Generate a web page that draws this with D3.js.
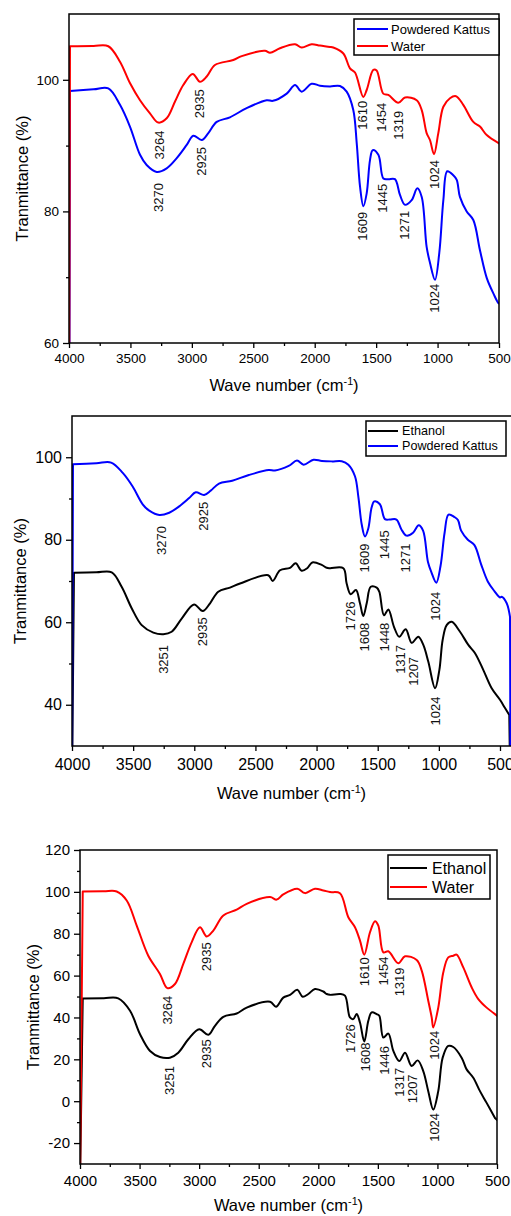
<!DOCTYPE html>
<html lang="en">
<head>
<meta charset="utf-8">
<script src="https://d3js.org/d3.v7.min.js"></script>
<title>FTIR spectra</title>
<style>
  body { margin: 0; background: #fff; }
  svg { display: block; }
</style>
</head>
<body>
<div id="chart"></div>
<script>
// ---- data (wave number cm-1, transmittance %) ----
var kattusWave = [4000, 3992, 3800, 3680, 3585, 3504, 3422, 3368, 3286, 3205, 3123, 3042, 2988, 2920, 2866, 2798, 2690, 2554, 2391, 2340, 2228, 2160, 2106, 2025, 1957, 1876, 1794, 1740, 1686, 1658, 1631, 1604, 1577, 1550, 1528, 1482, 1441, 1401, 1347, 1306, 1265, 1211, 1165, 1129, 1089, 1062, 1021, 986, 953, 921, 872, 844, 818, 763, 709, 655, 600, 546, 500, 486, 445, 418, 414];
var kattusT    = [20, 98.3, 98.55, 98.7, 96.2, 92.9, 88.6, 87.05, 86.0, 86.55, 88.1, 90.1, 91.5, 90.85, 91.9, 93.6, 94.3, 95.7, 96.9, 96.8, 97.9, 99.2, 98.2, 99.4, 99.1, 99.0, 99.05, 98.2, 95.4, 90.35, 83.75, 80.8, 82.75, 87.8, 89.3, 88.6, 85.0, 84.9, 84.9, 82.5, 81.0, 81.7, 83.5, 82.2, 74.6, 72.2, 69.6, 73.7, 81.7, 86.1, 85.5, 84.8, 82.2, 80.0, 78.7, 74.1, 69.9, 67.55, 66.0, 66.2, 64.6, 61.3, 20];

// water as plotted in the first panel
var water1Wave = [4000, 3992, 3800, 3680, 3585, 3504, 3422, 3341, 3273, 3205, 3137, 3070, 2993, 2934, 2879, 2812, 2663, 2594, 2405, 2364, 2283, 2160, 2106, 2025, 1957, 1876, 1849, 1767, 1713, 1672, 1605, 1577, 1523, 1496, 1442, 1401, 1320, 1265, 1170, 1129, 1089, 1062, 1029, 994, 953, 899, 850, 791, 709, 655, 600, 500, 460];
var water1T    = [40, 105.1, 105.15, 105.1, 102.75, 99.5, 96.9, 94.9, 93.5, 94.15, 96.7, 99.2, 100.9, 99.7, 100.5, 102.25, 103.0, 103.6, 104.4, 104.1, 104.8, 105.4, 104.9, 105.4, 105.2, 105.0, 104.9, 104.0, 101.75, 101.1, 97.4, 98.45, 101.5, 101.4, 97.9, 97.7, 96.5, 97.3, 96.9, 95.4, 91.9, 90.85, 88.7, 91.9, 95.9, 97.2, 97.5, 96.2, 93.6, 92.9, 91.6, 90.35, 89.9];

// ethanol as plotted in the second panel
var ethanol2Wave = [4000, 3984, 3800, 3675, 3594, 3512, 3430, 3335, 3253, 3185, 3103, 3002, 2931, 2871, 2804, 2708, 2626, 2395, 2359, 2299, 2217, 2171, 2122, 2076, 2035, 1958, 1917, 1890, 1781, 1754, 1721, 1678, 1645, 1618, 1590, 1557, 1508, 1487, 1449, 1413, 1367, 1324, 1271, 1222, 1168, 1127, 1086, 1031, 996, 969, 936, 895, 827, 759, 704, 636, 568, 500, 459, 424, 416];
var ethanol2T    = [20, 72.0, 72.1, 72.1, 68.6, 63.4, 59.3, 57.5, 57.1, 57.7, 60.9, 64.3, 62.7, 64.6, 67.4, 68.4, 69.4, 71.4, 70.0, 72.6, 73.2, 74.3, 72.5, 73.1, 74.5, 73.9, 73.2, 73.1, 73.1, 69.4, 66.8, 67.8, 64.6, 61.5, 64.6, 68.6, 68.4, 67.4, 61.7, 63.1, 58.9, 56.5, 58.3, 55.0, 56.5, 54.5, 50.4, 44.0, 48.4, 55.7, 59.3, 60.1, 57.7, 54.5, 52.5, 48.4, 44.0, 41.2, 39.2, 37.5, 20];

// water as plotted in the third panel
var water3Wave = [4000, 3977, 3800, 3692, 3608, 3524, 3427, 3329, 3267, 3203, 3133, 3063, 2993, 2937, 2881, 2797, 2685, 2601, 2405, 2349, 2294, 2176, 2112, 2028, 1958, 1902, 1818, 1748, 1692, 1650, 1614, 1566, 1524, 1496, 1454, 1412, 1328, 1272, 1174, 1132, 1077, 1048, 1035, 993, 951, 909, 867, 839, 783, 712, 657, 587, 517, 480];
var water3T    = [-40, 100.2, 100.3, 100.2, 95.9, 83.9, 69.5, 60.8, 54.0, 56.0, 65.6, 75.9, 83.1, 78.7, 81.5, 88.7, 91.5, 94.3, 97.5, 96.3, 98.8, 101.5, 99.4, 101.5, 100.7, 99.9, 99.3, 87.9, 83.1, 76.7, 70.0, 80.7, 86.0, 83.9, 71.1, 71.6, 65.9, 69.2, 67.5, 62.4, 48.0, 40.0, 35.2, 44.7, 61.5, 68.7, 69.5, 70.0, 63.9, 54.3, 48.8, 44.7, 41.6, 40.0];

// ethanol as plotted in the third panel
var ethanol3Wave = [4000, 3977, 3800, 3679, 3580, 3496, 3412, 3329, 3245, 3175, 3091, 2999, 2923, 2867, 2797, 2685, 2601, 2405, 2355, 2294, 2237, 2176, 2131, 2084, 2028, 1958, 1929, 1902, 1818, 1776, 1734, 1706, 1678, 1650, 1614, 1580, 1552, 1510, 1488, 1454, 1412, 1370, 1320, 1272, 1216, 1166, 1119, 1077, 1035, 993, 956, 909, 867, 797, 755, 699, 643, 587, 517, 480];
var ethanol3T    = [-40, 49.1, 49.2, 49.1, 43.2, 32.0, 24.0, 21.1, 20.8, 23.2, 29.6, 34.4, 31.7, 36.0, 40.3, 41.9, 44.7, 47.5, 45.1, 49.5, 50.8, 53.2, 49.9, 51.2, 53.6, 52.4, 51.2, 50.8, 51.2, 50.4, 40.0, 39.2, 41.6, 37.6, 28.5, 38.4, 42.4, 41.6, 40.8, 30.4, 32.3, 24.0, 19.2, 23.2, 16.8, 19.5, 14.4, 4.8, -4.0, 4.8, 20.8, 26.4, 25.9, 20.8, 15.2, 11.2, 4.8, -0.8, -8.0, -10];

// peak annotations: wave number and the transmittance where the label starts
var peaks1Wave = [3264, 2935, 3270, 2925, 1610, 1454, 1319, 1024, 1609, 1445, 1271, 1024];
var peaks1Top  = [92.3, 98.55, 84.3, 89.8, 96.8, 96.5, 95.3, 87.8, 79.95, 84.2, 80.1, 69.0];
var peaks2Wave = [3270, 2925, 1609, 1445, 1271, 1024, 3251, 2935, 1726, 1608, 1448, 1317, 1207, 1024];
var peaks2Top  = [83.3, 89.2, 79.1, 82.3, 79.1, 67.4, 54.5, 61.2, 65.0, 59.9, 59.9, 54.5, 51.6, 42.0];
var peaks3Wave = [3264, 2935, 1610, 1454, 1319, 1024, 3251, 2935, 1726, 1608, 1446, 1317, 1207, 1024];
var peaks3Top  = [50.4, 75.9, 68.7, 69.1, 63.9, 33.6, 16.8, 29.6, 36.8, 28.0, 26.4, 16.0, 12.8, -5.6];

var xTicks = [4000, 3500, 3000, 2500, 2000, 1500, 1000, 500];
var xMinor = [3750, 3250, 2750, 2250, 1750, 1250, 750];

var FONT = '"Liberation Sans", Arial, Helvetica, sans-serif';

function zip(w, t) {
    return w.map(function(d, i){ return [d, t[i]]; });
}

var panels = [
    {
        left: 69, top: 14, right: 499, bottom: 343,
        xDomain: [4000, 500], yDomain: [60, 110],
        yTicks: [60, 80, 100], yMinor: [70, 90],
        tickFont: 13.5, xLabelGap: 20, yTitleX: 22, xTitleY: 391, titleFont: 16.5,
        series: [
            {name: "Powdered Kattus", color: "#0000ff", data: zip(kattusWave, kattusT)},
            {name: "Water", color: "#ff0000", data: zip(water1Wave, water1T)}
        ],
        peaks: zip(peaks1Wave, peaks1Top),
        legend: {x0: 354, y0: 19, x1: 499, y1: 55, rows: [29, 46], lineX: [357, 388], textX: 391, font: 13}
    },
    {
        left: 72, top: 416, right: 511, bottom: 746,
        xDomain: [4000, 410], yDomain: [30, 110],
        yTicks: [40, 60, 80, 100], yMinor: [50, 70, 90],
        tickFont: 16, xLabelGap: 24, yTitleX: 20, xTitleY: 799, titleFont: 16.5, openRight: true,
        series: [
            {name: "Ethanol", color: "#000000", data: zip(ethanol2Wave, ethanol2T)},
            {name: "Powdered Kattus", color: "#0000ff", data: zip(kattusWave, kattusT)}
        ],
        peaks: zip(peaks2Wave, peaks2Top),
        legend: {x0: 366, y0: 421, x1: 506, y1: 456, rows: [431, 446], lineX: [368, 398], textX: 402, font: 12.6}
    },
    {
        left: 80, top: 850, right: 497, bottom: 1164,
        xDomain: [4000, 500], yDomain: [-30, 120],
        yTicks: [-20, 0, 20, 40, 60, 80, 100, 120], yMinor: [-10, 10, 30, 50, 70, 90, 110],
        tickFont: 15, xLabelGap: 22, yTitleX: 33, xTitleY: 1211, titleFont: 16.5,
        series: [
            {name: "Ethanol", color: "#000000", data: zip(ethanol3Wave, ethanol3T)},
            {name: "Water", color: "#ff0000", data: zip(water3Wave, water3T)}
        ],
        peaks: zip(peaks3Wave, peaks3Top),
        legend: {x0: 388, y0: 855, x1: 490, y1: 899, rows: [868, 887], lineX: [390, 427], textX: 432, font: 16}
    }
];

var svg = d3.select("#chart").append("svg")
    .attr("width", 511)
    .attr("height", 1216)
    .style("font-family", FONT);

panels.forEach(function(p, idx) {
    var x = d3.scaleLinear().domain(p.xDomain).range([p.left, p.right]);
    var y = d3.scaleLinear().domain(p.yDomain).range([p.bottom, p.top]);
    var g = svg.append("g");

    var clipId = "clip" + idx;
    svg.append("clipPath").attr("id", clipId)
        .append("rect")
        .attr("x", p.left).attr("y", p.top)
        .attr("width", p.right - p.left).attr("height", p.bottom - p.top);

    // spectra: the sharp jump at 4000 is straight, the rest is smoothed
    var line = d3.line()
        .x(function(d){ return x(d[0]); })
        .y(function(d){ return y(d[1]); })
        .curve(d3.curveCatmullRom.alpha(0.5));
    function spectrumPath(data) {
        var first = data[0];
        var rest = data.slice(0, data.length - 1).slice(1);
        var last = data[data.length - 1];
        var body = line(rest);
        var end = rest[rest.length - 1];
        var d = "M" + x(first[0]) + "," + y(first[1]) + "L" + body.slice(1);
        // the final drop (if any) is also straight
        d += "L" + x(last[0]) + "," + y(last[1]);
        return d;
    }

    g.append("g").attr("clip-path", "url(#" + clipId + ")")
        .selectAll("path")
        .data(p.series)
        .enter().append("path")
        .attr("d", function(s){ return spectrumPath(s.data); })
        .attr("fill", "none")
        .attr("stroke", function(s){ return s.color; })
        .attr("stroke-width", 2)
        .attr("stroke-linejoin", "round");

    // frame
    g.append("rect")
        .attr("x", p.left).attr("y", p.top)
        .attr("width", (p.openRight ? p.right + 5 : p.right) - p.left)
        .attr("height", p.bottom - p.top)
        .attr("fill", "none").attr("stroke", "#000").attr("stroke-width", 1.5);

    // axes
    var fmt = function(d){ return String(d); };
    var xAxis = g.append("g").attr("transform", "translate(0," + p.bottom + ")")
        .call(d3.axisBottom(x).tickValues(xTicks).tickSize(5).tickFormat(fmt)
              .tickPadding(p.xLabelGap - 5 - p.tickFont * 0.72));
    var xAxisMinor = g.append("g").attr("transform", "translate(0," + p.bottom + ")")
        .call(d3.axisBottom(x).tickValues(xMinor).tickSize(3).tickFormat(""));
    var yAxis = g.append("g").attr("transform", "translate(" + p.left + ",0)")
        .call(d3.axisLeft(y).tickValues(p.yTicks).tickSize(6).tickPadding(4).tickFormat(fmt));
    var yAxisMinor = g.append("g").attr("transform", "translate(" + p.left + ",0)")
        .call(d3.axisLeft(y).tickValues(p.yMinor).tickSize(3).tickFormat(""));

    [xAxis, xAxisMinor, yAxis, yAxisMinor].forEach(function(a){
        a.select(".domain").remove();
        a.selectAll("line").attr("stroke", "#000").attr("stroke-width", 1.3);
        a.selectAll("text").attr("fill", "#000")
            .style("font-family", FONT).style("font-size", p.tickFont + "px");
    });
    xAxis.selectAll("text").attr("dy", "0.71em");

    // peak labels
    g.selectAll(".peak")
        .data(p.peaks)
        .enter().append("text")
        .attr("class", "peak")
        .attr("transform", function(d){ return "translate(" + x(d[0]) + "," + y(d[1]) + ") rotate(-90)"; })
        .attr("text-anchor", "end")
        .attr("dy", "0.35em")
        .style("font-size", "13px")
        .attr("fill", "#111")
        .text(function(d){ return d[0]; });

    // legend
    var L = p.legend;
    g.append("rect")
        .attr("x", L.x0).attr("y", L.y0)
        .attr("width", L.x1 - L.x0).attr("height", L.y1 - L.y0)
        .attr("fill", "#fff").attr("stroke", "#000").attr("stroke-width", 1.5);
    p.series.forEach(function(s, i){
        g.append("line")
            .attr("x1", L.lineX[0]).attr("x2", L.lineX[1])
            .attr("y1", L.rows[i]).attr("y2", L.rows[i])
            .attr("stroke", s.color).attr("stroke-width", 2);
        g.append("text")
            .attr("x", L.textX).attr("y", L.rows[i])
            .attr("dy", "0.35em")
            .style("font-size", L.font + "px")
            .attr("fill", "#000")
            .text(s.name);
    });

    // axis titles
    var cx = (p.left + Math.min(p.right, 511)) / 2;
    var xt = g.append("text")
        .attr("x", cx).attr("y", p.xTitleY)
        .attr("text-anchor", "middle")
        .style("font-size", p.titleFont + "px")
        .attr("fill", "#000");
    xt.append("tspan").text("Wave number (cm");
    xt.append("tspan").attr("dy", -6).style("font-size", (p.titleFont * 0.65) + "px").text("-1");
    xt.append("tspan").attr("dy", 6).text(")");

    g.append("text")
        .attr("transform", "translate(" + p.yTitleX + "," + ((p.top + p.bottom) / 2) + ") rotate(-90)")
        .attr("text-anchor", "middle")
        .attr("dy", "0.35em")
        .style("font-size", p.titleFont + "px")
        .attr("fill", "#000")
        .text("Tranmittance (%)");
});
</script>
</body>
</html>
